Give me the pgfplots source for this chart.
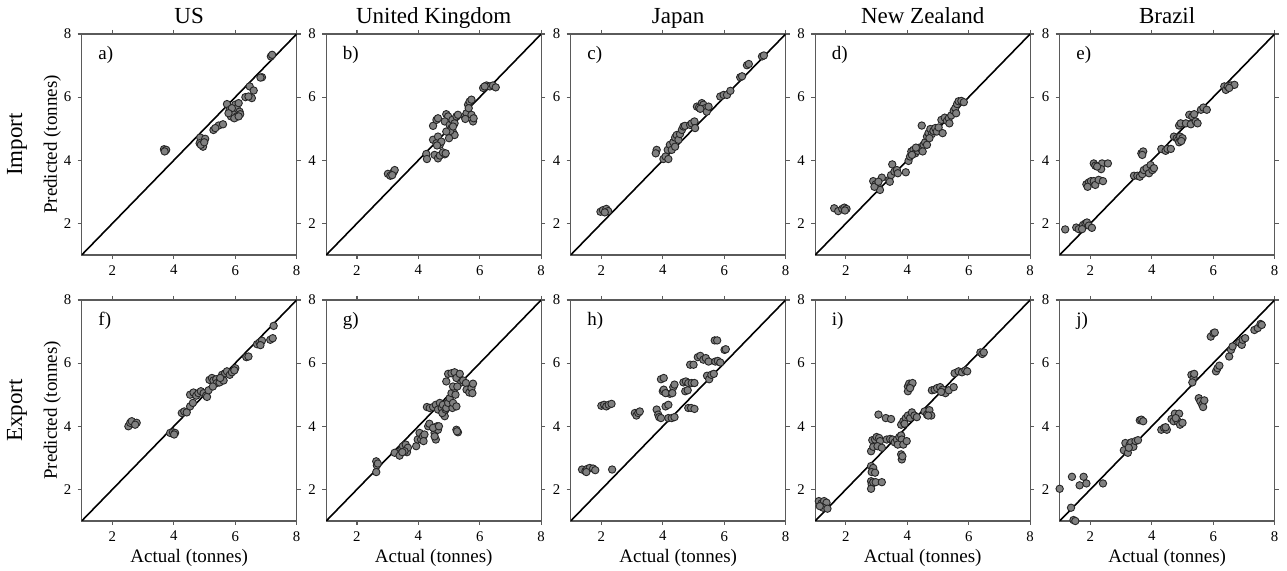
\documentclass[border=0pt]{standalone}
\usepackage{fontspec}
\setmainfont{Liberation Serif}
\usepackage{pgfplots}
\pgfplotsset{compat=1.18}
\usepgfplotslibrary{groupplots}
\definecolor{ptfill}{HTML}{808080}
\definecolor{axgray}{HTML}{5A5A5A}
\pgfplotsset{
  pts/.style={only marks, mark=*, mark size=1.85pt,
    mark options={fill=ptfill, draw=black!85, line width=0.45pt}},
  diag/.style={black, line width=0.8pt, no marks},
  every axis title/.style={at={(0.5,1)}, anchor=base, yshift=5pt, font=\fontsize{11.5}{13}\selectfont},
}
\newcommand{\panellabel}[1]{\node[anchor=west,font=\fontsize{9.5}{11}\selectfont] at (rel axis cs:0.045,0.905) {#1};}
\begin{document}
\begin{tikzpicture}
\begin{groupplot}[
  group style={group size=5 by 2, horizontal sep=14.75pt, vertical sep=22.5pt},
  scale only axis, width=107.5pt, height=110.5pt,
  xmin=1, xmax=8, ymin=1, ymax=8,
  xtick={2,4,6,8}, ytick={2,4,6,8},
  tick align=outside, major tick length=2pt,
  axis line style={axgray, line width=0.6pt},
  every tick/.style={axgray, line width=0.6pt},
  /pgf/number format/assume math mode=true,
  tick label style={font=\fontsize{7.4}{8}\selectfont},
  xticklabel style={yshift=0.4pt},
  yticklabel style={xshift=0.3pt},
  label style={font=\fontsize{9.5}{11}\selectfont},
  xlabel style={at={(axis description cs:0.5,0)}, anchor=base, yshift=-21pt},
  ylabel style={at={(axis description cs:-0.116,0.5)}, anchor=base, rotate=0},
  clip=true,
]
% ---------- a) US import
\nextgroupplot[title={US}, ylabel={Predicted (tonnes)}]
\addplot[diag] coordinates {(1,1) (8,8)};
\addplot[pts] coordinates {
(3.68,4.35) (3.72,4.30) (3.75,4.33) (3.70,4.28)
(4.86,4.72) (5.02,4.68) (4.84,4.54) (4.95,4.43) (4.88,4.49) (4.99,4.57)
(5.29,4.96) (5.46,5.10) (5.60,5.14) (5.35,5.02)
(5.73,5.78) (5.82,5.60) (5.86,5.39) (5.95,5.49) (6.00,5.76) (6.05,5.65) (6.11,5.81) (6.14,5.54) (6.05,5.39) (5.97,5.33) (5.89,5.65) (6.16,5.46) (5.78,5.49) (6.11,5.39)
(6.33,6.00) (6.47,6.34) (6.60,6.21) (6.54,5.97) (6.43,6.02)
(6.87,6.63) (6.82,6.62)
(7.16,7.29) (7.20,7.34)
};
\panellabel{a)}
% ---------- b) UK import
\nextgroupplot[title={United Kingdom}]
\addplot[diag] coordinates {(1,1) (8,8)};
\addplot[pts] coordinates {
(3.01,3.57) (3.09,3.51) (3.20,3.64) (3.23,3.69) (3.15,3.53)
(4.26,4.20) (4.28,4.04) (4.53,4.17) (4.64,4.06) (4.70,4.15) (4.86,4.19) (4.80,4.25) (4.89,4.22)
(4.48,4.65) (4.59,4.54) (4.64,4.75) (4.70,4.49) (4.75,4.59) (4.61,4.47)
(4.48,5.09) (4.59,5.28) (4.64,5.33)
(4.91,5.46) (4.97,5.39) (4.86,5.23) (5.02,5.12) (5.08,5.02) (5.13,4.89) (5.18,4.80) (5.04,4.93) (4.91,4.91) (5.11,5.28) (5.18,5.17) (5.24,5.39) (5.29,5.44) (5.00,4.70) (5.13,5.07)
(5.51,5.39) (5.57,5.49) (5.62,5.76) (5.67,5.86) (5.73,5.92) (5.64,5.65) (5.73,5.44) (5.78,5.23) (5.80,5.33) (5.53,5.31)
(6.11,6.29) (6.22,6.37) (6.33,6.34) (6.43,6.37) (6.52,6.31) (6.16,6.34)
};
\panellabel{b)}
% ---------- c) Japan import
\nextgroupplot[title={Japan}]
\addplot[diag] coordinates {(1,1) (8,8)};
\addplot[pts] coordinates {
(1.97,2.37) (2.05,2.42) (2.16,2.46) (2.22,2.39) (2.11,2.35)
(3.80,4.33) (3.77,4.22) (4.02,4.04) (4.09,4.12) (4.18,4.04) (4.16,4.33) (4.23,4.49) (4.34,4.57) (4.40,4.72) (4.45,4.80) (4.51,4.65) (4.56,4.83) (4.62,4.96) (4.67,5.07) (4.72,5.09) (4.29,4.33) (4.40,4.43) (4.89,5.12) (4.94,5.17) (5.03,5.23) (5.05,5.02)
(5.11,5.70) (5.18,5.67) (5.27,5.81) (5.32,5.76) (5.38,5.65) (5.43,5.54) (5.49,5.70) (5.22,5.63)
(5.87,6.02) (5.98,6.07) (6.09,6.07) (6.20,6.20)
(6.52,6.63) (6.58,6.66)
(6.74,7.01) (6.80,7.05)
(7.23,7.29) (7.29,7.32)
};
\panellabel{c)}
% ---------- d) New Zealand import
\nextgroupplot[title={New Zealand}]
\addplot[diag] coordinates {(1,1) (8,8)};
\addplot[pts] coordinates {
(1.62,2.48) (1.75,2.39) (1.88,2.46) (1.95,2.50) (2.02,2.46) (1.97,2.41)
(2.89,3.34) (2.97,3.24) (3.04,3.16) (3.11,3.06) (2.93,3.16) (3.17,3.45) (3.06,3.32)
(3.41,3.38) (3.47,3.53) (3.51,3.87) (3.58,3.64) (3.66,3.69) (3.69,3.59) (3.43,3.32)
(3.95,3.62)
(4.04,3.98) (4.09,4.12) (4.13,4.28) (4.20,4.33) (4.26,4.22) (4.34,4.30) (4.39,4.40) (4.45,4.36) (4.53,4.49) (4.58,4.57) (4.64,4.49) (4.50,4.28) (4.15,4.17) (4.28,4.40)
(4.47,5.10) (4.64,4.75) (4.69,4.86) (4.75,4.99) (4.80,4.83) (4.85,4.93) (4.91,5.02) (4.96,4.91) (5.02,5.04) (5.15,4.86) (4.72,4.70)
(5.11,5.28) (5.22,5.35) (5.29,5.25) (5.35,5.33) (5.43,5.42) (5.51,5.57) (5.56,5.65) (5.62,5.78) (5.67,5.87) (5.76,5.88) (5.84,5.84) (5.59,5.49) (5.37,5.17)
};
\panellabel{d)}
% ---------- e) Brazil import
\nextgroupplot[title={Brazil}]
\addplot[diag] coordinates {(1,1) (8,8)};
\addplot[pts] coordinates {
(1.18,1.81) (1.54,1.87) (1.62,1.82) (1.76,1.95) (1.84,2.00) (1.89,2.03) (1.95,1.93) (2.05,1.86) (1.73,1.82)
(1.87,3.24) (1.95,3.30) (2.02,3.34) (2.11,3.34) (2.16,3.22) (2.27,3.38) (2.41,3.34) (1.91,3.16)
(2.11,3.90) (2.16,3.83) (2.33,3.83) (2.38,3.90) (2.35,3.72) (2.57,3.90) (2.22,3.80)
(3.42,3.51) (3.53,3.51) (3.61,3.48) (3.69,3.56) (3.74,3.69) (3.83,3.75) (3.91,3.59) (3.96,3.85) (4.02,3.69) (4.07,3.75) (3.66,4.22) (3.72,4.28) (3.69,4.17)
(4.31,4.36) (4.45,4.30) (4.51,4.36) (4.62,4.36)
(4.72,4.75) (4.81,4.70) (4.86,4.65) (4.92,4.75) (5.00,4.70) (4.89,4.57) (4.96,4.61)
(4.89,5.10) (4.94,5.17) (5.11,5.17) (5.22,5.44) (5.27,5.14) (5.32,5.39) (5.38,5.46) (5.43,5.23) (5.49,5.17) (5.60,5.60) (5.68,5.67) (5.79,5.60)
(6.36,6.34) (6.41,6.23) (6.47,6.34) (6.58,6.37) (6.69,6.39) (6.52,6.29)
};
\panellabel{e)}
% ---------- f) US export
\nextgroupplot[xlabel={Actual (tonnes)}, ylabel={Predicted (tonnes)}]
\addplot[diag] coordinates {(1,1) (8,8)};
\addplot[pts] coordinates {
(2.52,4.00) (2.58,4.11) (2.63,4.16) (2.79,4.11) (2.74,4.05)
(3.88,3.79) (3.97,3.81) (4.04,3.79) (4.01,3.74)
(4.26,4.42) (4.34,4.47) (4.42,4.44) (4.53,4.63) (4.62,4.74) (4.53,5.00) (4.64,5.07) (4.73,4.97) (4.80,5.05) (4.88,5.11) (4.97,5.05) (5.05,4.97) (5.08,4.93) (5.13,5.14)
(5.16,5.47) (5.24,5.53) (5.29,5.45) (5.38,5.49) (5.40,5.37) (5.27,5.26) (5.49,5.39) (5.57,5.63) (5.62,5.45) (5.67,5.68) (5.73,5.74) (5.82,5.63) (5.89,5.71) (6.00,5.84) (5.97,5.77) (5.51,5.53)
(6.36,6.19) (6.43,6.21)
(6.71,6.60) (6.79,6.65) (6.87,6.71) (6.82,6.57)
(7.14,6.74) (7.22,6.79) (7.25,7.18)
};
\panellabel{f)}
% ---------- g) UK export
\nextgroupplot[xlabel={Actual (tonnes)}]
\addplot[diag] coordinates {(1,1) (8,8)};
\addplot[pts] coordinates {
(2.63,2.89) (2.65,2.76) (2.68,2.82) (2.63,2.55)
(3.23,3.16) (3.39,3.07) (3.45,3.26) (3.50,3.37) (3.59,3.42) (3.63,3.18) (3.66,3.32) (3.55,3.21) (3.48,3.18)
(3.93,3.37) (3.98,3.58) (4.04,3.79) (4.09,3.58) (4.15,3.68) (4.20,3.74) (4.17,3.53)
(4.32,4.00) (4.36,4.08) (4.53,3.79) (4.57,3.58) (4.61,4.00) (4.64,3.89) (4.53,3.68) (4.48,3.95) (4.67,4.00)
(4.28,4.61) (4.37,4.58) (4.48,4.61) (4.57,4.68) (4.64,4.53) (4.70,4.74) (4.76,4.58) (4.80,4.68) (4.83,4.37) (4.86,4.32) (4.78,4.42) (4.89,4.53) (4.91,4.58) (4.97,4.74) (5.02,4.89) (5.11,4.58) (5.13,4.74) (5.08,5.05) (5.18,5.21) (5.21,5.00) (5.24,4.63) (5.13,5.26)
(4.97,5.66) (4.91,5.42) (5.08,5.68) (5.18,5.71) (5.24,5.53) (5.35,5.66) (5.40,5.39) (5.46,5.45) (5.55,5.37) (5.57,5.16) (5.66,5.07) (5.73,5.21) (5.78,5.35) (5.76,5.05) (5.27,5.26)
(5.24,3.89) (5.29,3.81) (5.26,3.84)
};
\panellabel{g)}
% ---------- h) Japan export
\nextgroupplot[xlabel={Actual (tonnes)}]
\addplot[diag] coordinates {(1,1) (8,8)};
\addplot[pts] coordinates {
(1.37,2.63) (1.48,2.58) (1.54,2.65) (1.62,2.68) (1.73,2.66) (1.80,2.61) (1.51,2.55) (2.35,2.63)
(2.00,4.65) (2.09,4.68) (2.16,4.63) (2.24,4.68) (2.33,4.71)
(3.09,4.42) (3.14,4.34) (3.20,4.42) (3.25,4.47)
(3.80,4.53) (3.85,4.37) (3.88,4.29) (3.94,4.26) (4.18,4.26) (4.29,4.26) (4.38,4.29) (4.09,4.63) (4.18,4.68) (4.23,5.03) (4.00,5.11) (4.03,5.16) (4.09,5.05) (3.94,5.49) (4.03,5.53) (4.34,5.24) (4.38,5.32) (4.31,5.05)
(4.67,5.39) (4.75,5.42) (4.83,5.37) (4.94,5.37) (5.03,5.37) (4.73,5.11) (4.81,5.14) (4.83,4.58) (4.92,4.58) (5.03,4.55)
(4.89,5.95) (5.00,5.95) (5.14,6.19) (5.22,6.23) (5.32,6.11) (5.40,6.16) (5.49,6.05) (5.71,6.05) (5.79,6.07) (5.87,6.02)
(5.44,5.60) (5.51,5.49) (5.58,5.63) (5.66,5.66)
(5.69,6.72) (5.77,6.72) (6.01,6.42) (6.05,6.44)
};
\panellabel{h)}
% ---------- i) New Zealand export
\nextgroupplot[xlabel={Actual (tonnes)}]
\addplot[diag] coordinates {(1,1) (8,8)};
\addplot[pts] coordinates {
(1.12,1.63) (1.21,1.56) (1.29,1.63) (1.37,1.58) (1.26,1.42) (1.40,1.39) (1.15,1.47)
(2.82,2.74) (2.89,2.68) (2.84,2.55) (2.95,2.53) (2.82,2.26) (2.84,2.16) (2.82,2.02) (2.89,2.23) (2.97,2.23) (3.17,2.23)
(2.82,3.21) (2.89,3.35) (2.86,3.56) (2.95,3.58) (3.00,3.66) (3.08,3.63) (3.11,3.53) (3.03,3.37) (3.17,3.32) (3.33,3.58) (3.44,3.60) (3.52,3.58) (3.59,3.49) (3.66,3.58) (3.74,3.66) (3.80,3.71) (3.82,3.58) (3.69,3.42) (3.87,3.42) (3.98,3.53) (3.80,3.11) (3.82,2.95) (3.84,3.05)
(3.06,4.37) (3.30,4.26) (3.47,4.23)
(3.80,4.05) (3.87,4.16) (3.95,4.26) (4.02,4.34) (4.09,4.26) (4.15,4.44) (4.23,4.34) (4.31,4.29) (3.91,4.08)
(4.02,5.26) (4.06,5.35) (4.13,5.32) (4.17,5.37) (4.02,5.11) (4.09,5.21)
(4.56,4.47) (4.64,4.37) (4.72,4.51) (4.78,4.34) (4.68,4.34)
(4.80,5.14) (4.89,5.16) (4.97,5.21) (5.07,5.24) (5.15,5.16) (5.24,5.05) (5.35,5.14) (5.51,5.24) (5.10,5.09)
(5.54,5.68) (5.67,5.74) (5.78,5.71) (5.89,5.77) (5.95,5.74)
(6.38,6.34) (6.44,6.29) (6.49,6.34)
};
\panellabel{i)}
% ---------- j) Brazil export
\nextgroupplot[xlabel={Actual (tonnes)}]
\addplot[diag] coordinates {(1,1) (8,8)};
\addplot[pts] coordinates {
(1.00,2.02) (1.40,2.40) (1.65,2.13) (1.78,2.40) (1.87,2.19) (2.41,2.19) (1.37,1.42) (1.45,1.03) (1.51,1.00)
(3.09,3.24) (3.14,3.47) (3.22,3.16) (3.28,3.42) (3.33,3.49) (3.40,3.35) (3.47,3.53) (3.55,3.56) (3.25,3.32)
(3.61,4.19) (3.66,4.21) (3.72,4.16)
(4.31,3.89) (4.40,3.95) (4.49,3.89) (4.45,3.97)
(4.64,4.23) (4.71,4.16) (4.75,4.40) (4.84,4.16) (4.89,4.40) (4.92,4.05) (5.00,4.11) (4.78,4.26)
(5.29,5.63) (5.36,5.53) (5.38,5.66) (5.32,5.39)
(5.53,4.89) (5.58,4.79) (5.64,4.68) (5.67,4.61) (5.71,4.82)
(5.92,6.84) (6.01,6.95) (6.05,6.97)
(6.09,5.74) (6.14,5.84) (6.20,5.92)
(6.52,6.21) (6.58,6.42) (6.63,6.53) (6.85,6.65) (6.93,6.58) (6.96,6.74) (7.04,6.79)
(7.34,7.05) (7.45,7.11) (7.54,7.24) (7.58,7.21)
};
\panellabel{j)}
\end{groupplot}
\node[rotate=90, anchor=base, font=\fontsize{11.5}{13}\selectfont] at ([xshift=-29.85pt]group c1r1.west) {Import};
\node[rotate=90, anchor=base, font=\fontsize{11.5}{13}\selectfont] at ([xshift=-29.85pt]group c1r2.west) {Export};
\pgfresetboundingbox
\path ([shift={(-40.85pt,-158pt)}]group c1r1.south west) rectangle ++(643.5pt,285.5pt);
\end{tikzpicture}
\end{document}
